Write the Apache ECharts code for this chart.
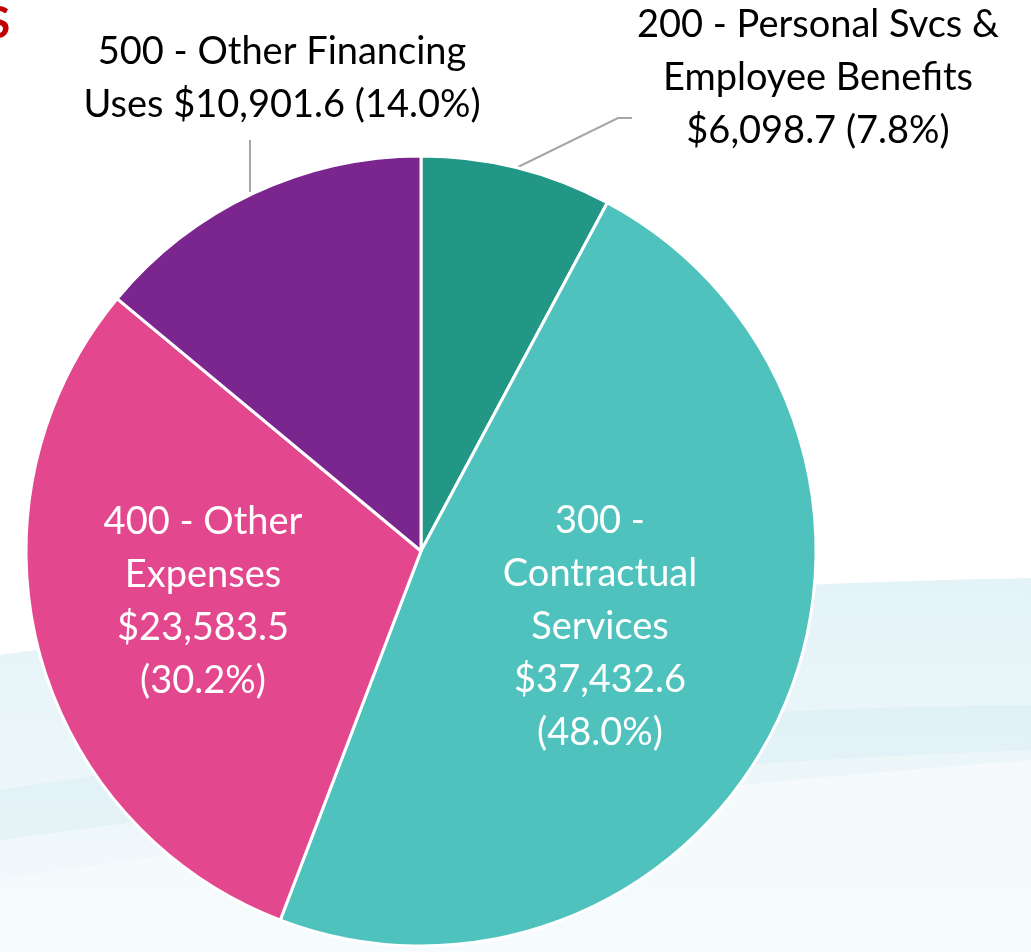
<!DOCTYPE html>
<html>
<head>
  <meta charset="UTF-8">
  <title>Expenditures by category</title>
  <script src="https://cdn.jsdelivr.net/npm/echarts@6/dist/echarts.min.js"></script>
  <style>
    html, body { margin: 0; padding: 0; background: #fff; }
  </style>
</head>
<body>
  <div id="main" style="width: 1031px; height: 952px;"></div>
  <script>
    // categories and amounts ($ thousands)
    const categories = [
      '200 - Personal Svcs &\nEmployee Benefits',
      '300 -\nContractual\nServices',
      '400 - Other\nExpenses',
      '500 - Other Financing\nUses'
    ];
    const amounts = [6098.7, 37432.6, 23583.5, 10901.6];
    const percents = ['7.8%', '48.0%', '30.2%', '14.0%'];
    const colors = ['#229786', '#50C2BE', '#E3488F', '#7B258F'];

    const FONT = 'Lato, "Open Sans", sans-serif';

    function fmt(v) {
      return '$' + v.toLocaleString('en-US', { minimumFractionDigits: 1, maximumFractionDigits: 1 });
    }

    // sample a quadratic curve into polygon points (background decoration only)
    function curve(p0, c, p1, n) {
      const pts = [];
      for (let k = 0; k <= n; k++) {
        const t = k / n, u = 1 - t;
        pts.push([u * u * p0[0] + 2 * u * t * c[0] + t * t * p1[0],
                  u * u * p0[1] + 2 * u * t * c[1] + t * t * p1[1]]);
      }
      return pts;
    }

    const chart = echarts.init(document.getElementById('main'));

    const labelText = [
      categories[0] + '\n' + fmt(amounts[0]) + ' (' + percents[0] + ')',
      categories[1] + '\n' + fmt(amounts[1]) + '\n(' + percents[1] + ')',
      categories[2] + '\n' + fmt(amounts[2]) + '\n(' + percents[2] + ')',
      categories[3] + ' ' + fmt(amounts[3]) + ' (' + percents[3] + ')'
    ];

    const swoosh1 = curve([0, 655], [450, 590], [1031, 578], 40).concat([[1031, 952], [0, 952]]);
    const band = curve([0, 790], [500, 710], [1031, 705], 40)
      .concat(curve([1031, 750], [500, 770], [0, 840], 40));
    const swoosh3 = curve([0, 880], [500, 800], [1031, 760], 40).concat([[1031, 952], [0, 952]]);

    const option = {
      animation: false,
      graphic: [
        {
          type: 'polygon', z: -10, silent: true,
          shape: { points: swoosh1 },
          style: {
            fill: new echarts.graphic.LinearGradient(0, 0, 0, 1, [
              { offset: 0, color: '#e3f3f8' },
              { offset: 0.45, color: '#ebf6f9' },
              { offset: 1, color: '#f4f9fc' }
            ])
          }
        },
        {
          type: 'polygon', z: -9, silent: true,
          shape: { points: band },
          style: { fill: 'rgba(205,232,238,0.3)' }
        },
        {
          type: 'polygon', z: -8, silent: true,
          shape: { points: swoosh3 },
          style: { fill: 'rgba(246,251,253,0.8)' }
        },
        // cut-off title fragment at the top-left
        {
          type: 'text', left: -14, top: 2, silent: true,
          style: { text: 'S', fill: '#C00000', font: 'bold 44px ' + FONT }
        }
      ],
      series: [{
        type: 'pie',
        center: [421, 551],
        radius: [0, 395],
        startAngle: 90,
        clockwise: true,
        itemStyle: { borderColor: '#fff', borderWidth: 3 },
        labelLine: { lineStyle: { color: '#a6a6a6', width: 2 }, length: 30, length2: 14 },
        data: amounts.map((v, i) => ({
          value: v,
          name: categories[i],
          itemStyle: { color: colors[i] },
          label: {
            show: true,
            position: (i === 1 || i === 2) ? 'inside' : 'outside',
            formatter: labelText[i],
            color: (i === 1 || i === 2) ? '#fff' : '#000',
            fontFamily: FONT,
            fontSize: 38,
            lineHeight: 53,
            align: 'center',
            overflow: 'none'
          },
          labelLine: { show: i === 0 || i === 3 }
        })),
        labelLayout: function (p) {
          if (p.dataIndex === 0) {
            return {
              x: 818, y: 78, align: 'center', verticalAlign: 'middle',
              labelLinePoints: [[518, 167], [618, 118], [632, 118]]
            };
          }
          if (p.dataIndex === 3) {
            return {
              x: 282, y: 78, align: 'center', verticalAlign: 'middle',
              labelLinePoints: [[250, 192], [250, 140], [250, 140]]
            };
          }
          if (p.dataIndex === 2) {
            return { x: 203, y: 601, align: 'center', verticalAlign: 'middle' };
          }
          if (p.dataIndex === 1) {
            return { x: 600, y: 627, align: 'center', verticalAlign: 'middle' };
          }
        }
      }]
    };

    chart.setOption(option);
  </script>
</body>
</html>
